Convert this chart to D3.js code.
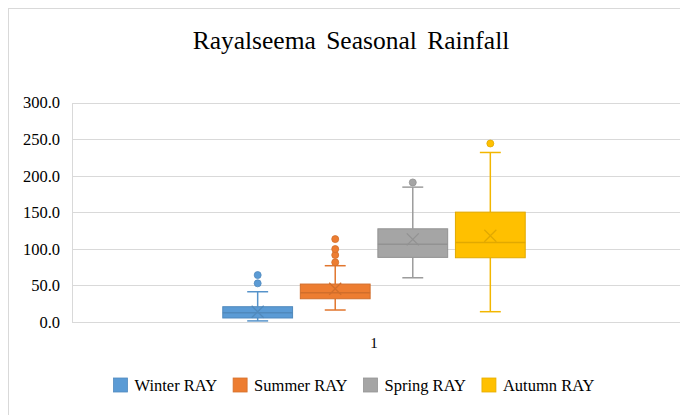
<!DOCTYPE html>
<html>
<head>
<meta charset="utf-8">
<script src="https://cdn.jsdelivr.net/npm/d3@7"></script>
<style>
  html, body { margin: 0; padding: 0; background: #fff; }
  svg { display: block; }
  .serif { font-family: "Liberation Serif", "Times New Roman", serif; }
</style>
</head>
<body>
<svg id="chart" width="680" height="415"></svg>
<script>
// ---- Data ----
const title = "Rayalseema Seasonal Rainfall";
const categories = ["1"];
const series = ["Winter RAY", "Summer RAY", "Spring RAY", "Autumn RAY"];
const colors = ["#5B9BD5", "#ED7D31", "#A5A5A5", "#FFC000"];
const whiskerLow = [1.5, 16.4, 60.5, 14.1];
const q1 = [5.5, 31.8, 88.4, 87.9];
const median = [12.7, 40.0, 106.2, 108.9];
const q3 = [20.9, 51.9, 127.5, 150.3];
const whiskerHigh = [41.4, 77.0, 184.5, 231.9];
const means = [14.0, 45.5, 113.0, 117.9];
const outliers = [[52.9, 64.2], [81.6, 91.6, 99.8, 113.4], [190.9], [244.2]];
const yTicks = [0, 50, 100, 150, 200, 250, 300];

// ---- Layout ----
const svg = d3.select("#chart");
const plot = { left: 72, right: 678, top: 102.7, bottom: 322 };
const serif = '"Liberation Serif", "Times New Roman", serif';

svg.append("rect")
  .attr("x", 8.5).attr("y", 8.5)
  .attr("width", 720).attr("height", 440)
  .attr("fill", "none").attr("stroke", "#D9D9D9").attr("stroke-width", 1);

svg.append("text")
  .attr("x", 351).attr("y", 49)
  .attr("text-anchor", "middle")
  .style("font-family", serif)
  .style("font-size", "25.5px")
  .style("word-spacing", "4px")
  .attr("fill", "#000")
  .text(title);

const y = d3.scaleLinear().domain([0, 300]).range([plot.bottom, plot.top]);
const x0 = d3.scaleBand().domain(categories).range([plot.left - 2, plot.right])
  .paddingInner(0).paddingOuter(0.48);
const x1 = d3.scaleBand().domain(series).range([0, x0.bandwidth()])
  .paddingInner(0.1).paddingOuter(0.05);

// gridlines
svg.append("g").selectAll("line").data(yTicks).join("line")
  .attr("x1", plot.left).attr("x2", plot.right + 10)
  .attr("y1", d => Math.round(y(d)) + 0.5).attr("y2", d => Math.round(y(d)) + 0.5)
  .attr("stroke", "#D9D9D9").attr("stroke-width", 1);

svg.append("line")
  .attr("x1", plot.left + 0.5).attr("x2", plot.left + 0.5)
  .attr("y1", Math.round(y(300)) + 0.5).attr("y2", Math.round(y(0)) + 0.5)
  .attr("stroke", "#D9D9D9");

// y axis labels
const yAxis = d3.axisLeft(y).tickValues(yTicks).tickFormat(d3.format(".1f")).tickSize(0).tickPadding(12);
const yg = svg.append("g").attr("transform", `translate(${plot.left},0)`).call(yAxis);
yg.attr("font-family", null).attr("font-size", null);
yg.select(".domain").remove();
yg.selectAll("text")
  .style("font-family", serif)
  .style("font-size", "16.5px").attr("fill", "#000");

// x axis label
const xAxis = d3.axisBottom(x0).tickSize(0).tickPadding(15);
const xg = svg.append("g").attr("transform", `translate(0,${plot.bottom})`).call(xAxis);
xg.attr("font-family", null).attr("font-size", null);
xg.select(".domain").remove();
xg.selectAll("text")
  .style("font-family", serif)
  .style("font-size", "15px").attr("fill", "#000");

// boxes
const data = series.map((s, i) => ({
  s, c: colors[i], lo: whiskerLow[i], q1: q1[i], med: median[i], q3: q3[i],
  hi: whiskerHigh[i], mean: means[i], out: outliers[i]
}));

const cat = categories[0];
const groups = svg.append("g").selectAll("g").data(data).join("g")
  .attr("transform", d => `translate(${x0(cat) + x1(d.s)},0)`);

const bw = x1.bandwidth();
const capW = bw * 0.3;

groups.each(function(d) {
  const g = d3.select(this);
  const cx = bw / 2;
  const dark = d3.color(d.c).darker(0.35).formatHex();
  const line = d3.color(d.c).darker(0.15).formatHex();
  g.append("line").attr("x1", cx).attr("x2", cx)
    .attr("y1", y(d.hi)).attr("y2", y(d.q3)).attr("stroke", line).attr("stroke-width", 1.5);
  g.append("line").attr("x1", cx).attr("x2", cx)
    .attr("y1", y(d.q1)).attr("y2", y(d.lo)).attr("stroke", line).attr("stroke-width", 1.5);
  g.append("line").attr("x1", cx - capW / 2).attr("x2", cx + capW / 2)
    .attr("y1", y(d.hi)).attr("y2", y(d.hi)).attr("stroke", line).attr("stroke-width", 1.5);
  g.append("line").attr("x1", cx - capW / 2).attr("x2", cx + capW / 2)
    .attr("y1", y(d.lo)).attr("y2", y(d.lo)).attr("stroke", line).attr("stroke-width", 1.5);
  g.append("rect").attr("x", 0).attr("width", bw)
    .attr("y", y(d.q3)).attr("height", y(d.q1) - y(d.q3))
    .attr("fill", d.c).attr("stroke", dark).attr("stroke-width", 1);
  g.append("line").attr("x1", 0).attr("x2", bw)
    .attr("y1", y(d.med)).attr("y2", y(d.med)).attr("stroke", dark).attr("stroke-width", 1.5);
  const my = y(d.mean), ms = 6;
  g.append("path")
    .attr("d", `M${cx - ms},${my - ms}L${cx + ms},${my + ms}M${cx - ms},${my + ms}L${cx + ms},${my - ms}`)
    .attr("stroke", dark).attr("stroke-width", 1.3).attr("fill", "none");
  g.selectAll("circle").data(d.out).join("circle")
    .attr("cx", cx).attr("cy", v => y(v)).attr("r", 3.5)
    .attr("fill", d.c).attr("stroke", dark).attr("stroke-width", 0.8);
});

// legend
const legend = svg.append("g");
let lx = 0;
series.forEach((s, i) => {
  const g = legend.append("g");
  g.append("rect").attr("x", 0).attr("y", -7).attr("width", 14).attr("height", 14)
    .attr("fill", colors[i]).attr("stroke", d3.color(colors[i]).darker(0.3).formatHex()).attr("stroke-width", 0.8);
  const t = g.append("text").attr("x", 21).attr("y", 5.5)
    .style("font-family", serif)
    .style("font-size", "16.5px").attr("fill", "#000").text(s);
  const w = 21 + t.node().getComputedTextLength();
  g.attr("transform", `translate(${lx},0)`);
  lx += w + 16;
});
const totalW = lx - 16;
legend.attr("transform", `translate(${354 - totalW / 2},385)`);
</script>
</body>
</html>
